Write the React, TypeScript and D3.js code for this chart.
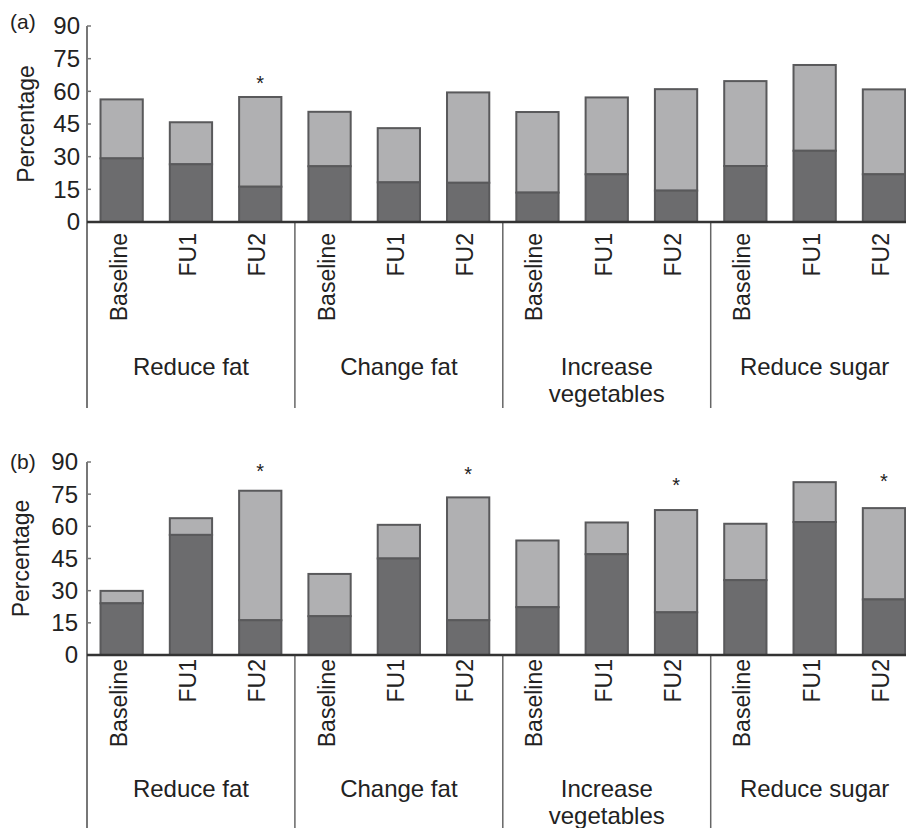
import React from "react";
import * as d3 from "d3";

const periods = ["Baseline", "FU1", "FU2"];
const categories = ["Reduce fat", "Change fat", "Increase vegetables", "Reduce sugar"];
const categoryLines = [["Reduce fat"], ["Change fat"], ["Increase", "vegetables"], ["Reduce sugar"]];
const yTicks = [0, 15, 30, 45, 60, 75, 90];

// Panel (a)
const darkA = [29.2, 26.5, 16.2, 25.6, 18.2, 18.0, 13.5, 21.9, 14.4, 25.7, 32.7, 21.9];
const totalA = [56.3, 45.8, 57.4, 50.6, 43.1, 59.5, 50.5, 57.2, 61.0, 64.7, 72.1, 60.9];
const starA: (number | null)[] = [null, null, 65.7, null, null, null, null, null, null, null, null, null];

// Panel (b)
const darkB = [24.1, 56.0, 16.2, 18.1, 45.0, 16.2, 22.3, 47.0, 19.9, 34.9, 62.0, 25.9];
const totalB = [29.9, 63.8, 76.6, 37.8, 60.7, 73.5, 53.4, 61.8, 67.6, 61.2, 80.6, 68.5];
const starB: (number | null)[] = [null, null, 88.1, null, null, 86.3, null, null, 81.2, null, null, 83.2];

const FONT = "'Liberation Sans', Arial, Helvetica, sans-serif";
const LIGHT = "#b0b0b2";
const DARK = "#6c6c6e";
const OUTLINE = "#59595b";

type PanelProps = {
  label: string;
  dark: number[];
  total: number[];
  stars: (number | null)[];
  y0: number;
  y90: number;
  labelBaseline: number;
  periodTop: number;
  catBaseline: number;
  lineBottom: number;
  tickRight: number;
  pctX: number;
};

function Panel(p: PanelProps) {
  const ids = d3.range(12).map((i) => `${categories[Math.floor(i / 3)]}|${periods[i % 3]}`);
  const x = d3
    .scaleBand<string>()
    .domain(ids)
    .range([87, 87 + 12 * 69.3])
    .paddingInner(0.39)
    .paddingOuter(0.195);
  const y = d3.scaleLinear().domain([0, 90]).range([p.y0, p.y90]);
  const slotStart = (id: string) => (x(id) as number) - (x.step() - x.bandwidth()) / 2;
  const bounds = [0, 3, 6, 9].map((k) => slotStart(ids[k]));
  const xStart = bounds[0];
  const groupW = 3 * x.step();

  return (
    <g>
      <text x={10} y={p.labelBaseline} fontSize={21} fontFamily={FONT} fill="#222">
        {p.label}
      </text>
      <text
        transform={`translate(${p.pctX},${(p.y0 + p.y90) / 2}) rotate(-90)`}
        textAnchor="middle"
        fontSize={23}
        fontFamily={FONT}
        fill="#222"
      >
        Percentage
      </text>
      {yTicks.map((t) => (
        <g key={t}>
          <text
            x={p.tickRight}
            y={y(t)}
            dy="0.35em"
            textAnchor="end"
            fontSize={24}
            fontFamily={FONT}
            fill="#222"
          >
            {t}
          </text>
          <line x1={xStart} x2={xStart + 4} y1={y(t)} y2={y(t)} stroke="#777" strokeWidth={1.5} />
        </g>
      ))}
      {ids.map((id, i) => {
        const bx = x(id) as number;
        const bw = x.bandwidth();
        return (
          <g key={id}>
            <rect
              x={bx}
              y={y(p.total[i])}
              width={bw}
              height={y(p.dark[i]) - y(p.total[i])}
              fill={LIGHT}
              stroke={OUTLINE}
              strokeWidth={2}
            />
            <rect
              x={bx}
              y={y(p.dark[i])}
              width={bw}
              height={y(0) - y(p.dark[i])}
              fill={DARK}
              stroke={OUTLINE}
              strokeWidth={2}
            />
            {p.stars[i] != null && (
              <text
                x={bx + bw / 2}
                y={y(p.stars[i] as number) + 11.5}
                textAnchor="middle"
                fontSize={20}
                fontFamily={FONT}
                fill="#222"
              >
                *
              </text>
            )}
            <text
              transform={`translate(${bx + bw / 2 + 5},${p.periodTop}) rotate(-90)`}
              textAnchor="end"
              fontSize={23}
              fontFamily={FONT}
              fill="#222"
            >
              {periods[i % 3]}
            </text>
          </g>
        );
      })}
      {/* y axis line */}
      <line x1={xStart} x2={xStart} y1={p.y90} y2={p.lineBottom} stroke="#777" strokeWidth={2} />
      {/* group dividers */}
      {bounds.slice(1).map((b, k) => (
        <line key={k} x1={b} x2={b} y1={p.y0} y2={p.lineBottom} stroke="#666" strokeWidth={1.5} />
      ))}
      {/* x axis */}
      <line x1={xStart} x2={920} y1={p.y0} y2={p.y0} stroke="#333" strokeWidth={2.5} />
      {categoryLines.map((lines, k) => (
        <text
          key={k}
          x={bounds[k] + groupW / 2}
          y={p.catBaseline}
          textAnchor="middle"
          fontSize={24}
          fontFamily={FONT}
          fill="#222"
        >
          {lines.map((ln, j) => (
            <tspan key={j} x={bounds[k] + groupW / 2} dy={j === 0 ? 0 : 27}>
              {ln}
            </tspan>
          ))}
        </text>
      ))}
    </g>
  );
}

export default function App() {
  return (
    <>
      <style>{`body{margin:0;}`}</style>
      <svg width={906} height={828} style={{ display: "block", background: "#fff" }}>
        <Panel
          label="(a)"
          dark={darkA}
          total={totalA}
          stars={starA}
          y0={222}
          y90={26}
          labelBaseline={29}
          periodTop={233}
          catBaseline={375}
          lineBottom={408}
          tickRight={80}
          pctX={34}
        />
        <Panel
          label="(b)"
          dark={darkB}
          total={totalB}
          stars={starB}
          y0={655}
          y90={462}
          labelBaseline={469}
          periodTop={659}
          catBaseline={797}
          lineBottom={830}
          tickRight={78}
          pctX={29}
        />
      </svg>
    </>
  );
}
